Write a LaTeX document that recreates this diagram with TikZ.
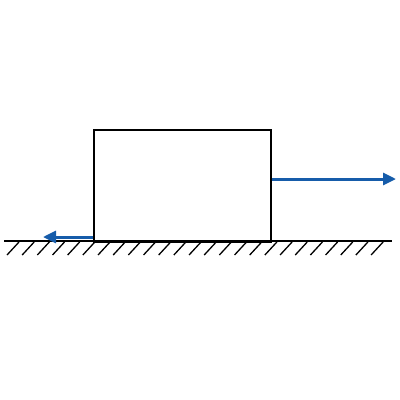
\documentclass[tikz,border=0pt]{standalone}
\usetikzlibrary{arrows.meta}
\definecolor{forceblue}{RGB}{22,92,170}
\tikzset{
  blk/.style={draw=black, line width=2pt},
  ground/.style={draw=black, line width=2pt},
  hatch/.style={draw=black, line width=1.3pt},
  force/.style={draw=forceblue, line width=3pt, -{Triangle[length=13pt,width=12pt]}}
}
\begin{document}
\begin{tikzpicture}[x=1pt,y=-1pt]
\useasboundingbox (0,0) rectangle (400,400);
\node[blk, minimum width=177pt, minimum height=112pt, inner sep=0pt, anchor=north west] (box) at (93,129) {};
\coordinate (gl) at (4,241);
\coordinate (gr) at (392,241);
\draw[ground] (gl) -- (gr);
\foreach \k in {0,...,24} {
  \draw[hatch] ({19+15.17*\k},242) -- ({7+15.17*\k},255);
}
\coordinate (rend) at (396,179);
\coordinate (rstart) at (box.east |- rend);
\draw[force] (rstart) -- (rend);
\coordinate (lend) at (43,237);
\coordinate (lstart) at (box.west |- lend);
\draw[force] (lstart) -- (lend);
\end{tikzpicture}
\end{document}
